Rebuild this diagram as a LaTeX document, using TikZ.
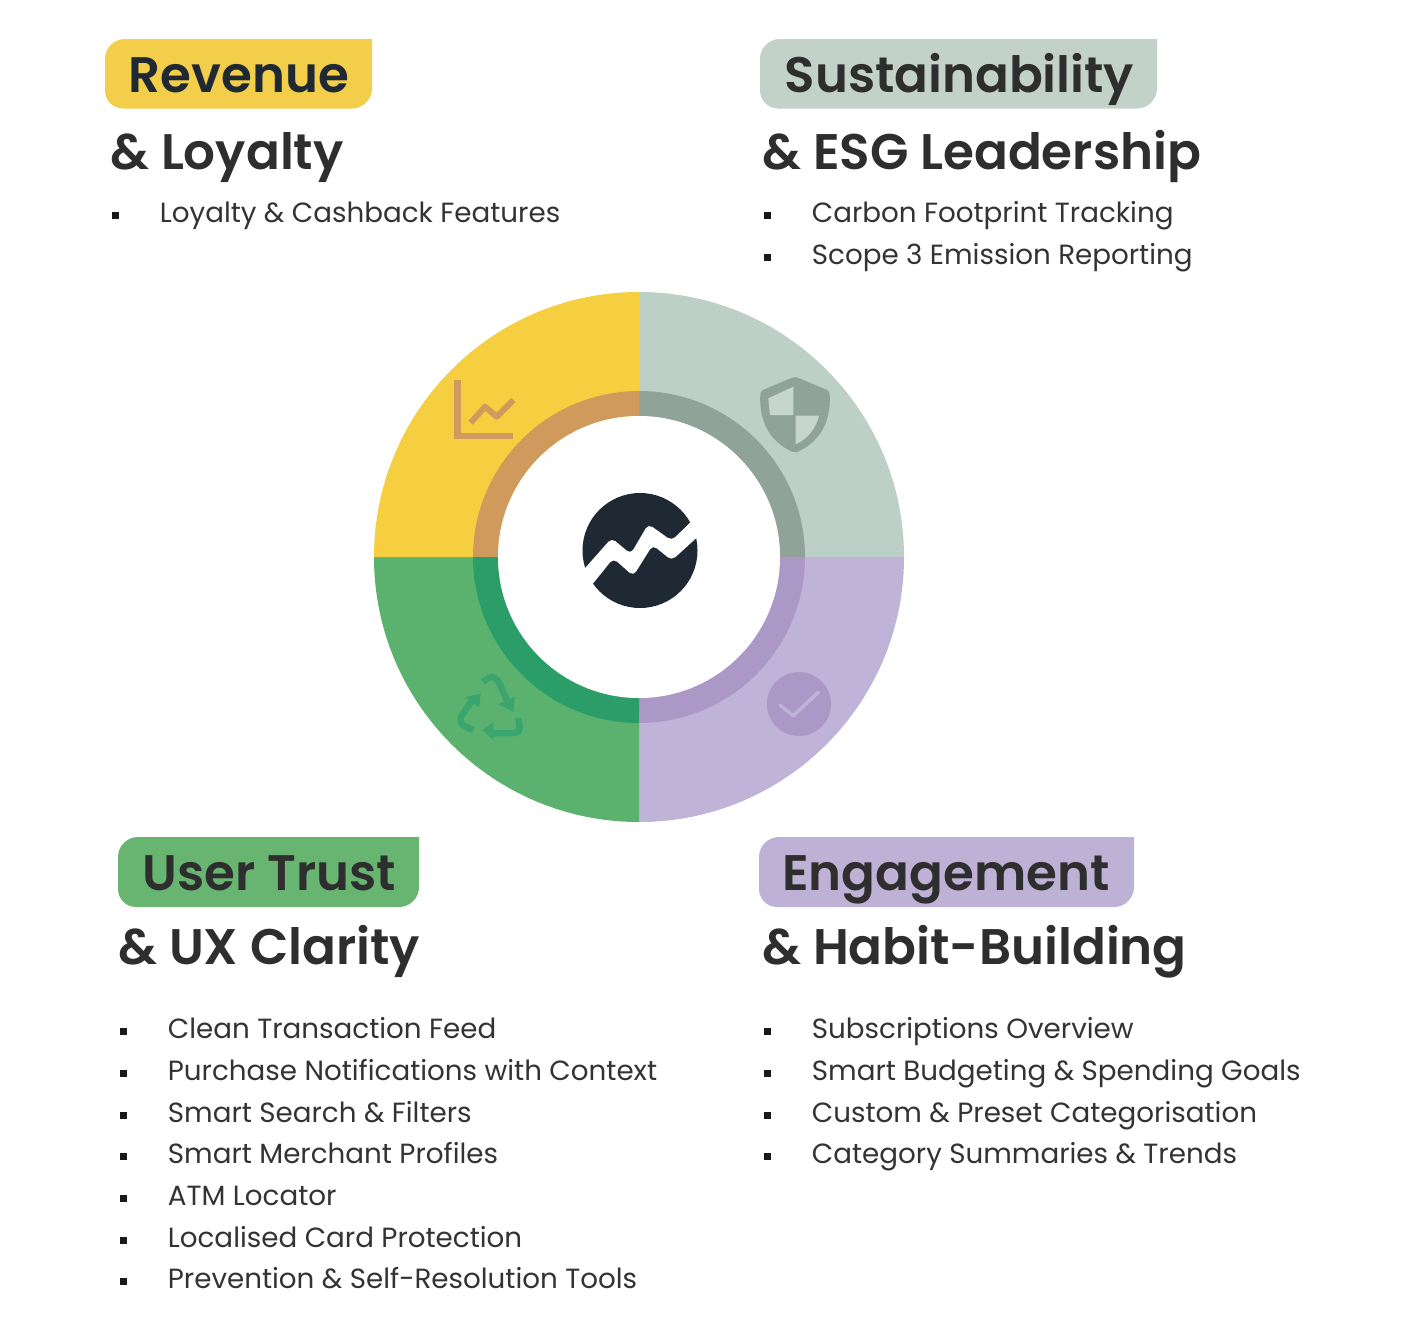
\documentclass[tikz,border=0pt]{standalone}
\usepackage{fontspec}
\setmainfont{Poppins}
\newfontfamily\popsemi{Poppins SemiBold}
\definecolor{cyellow}{HTML}{F5CF3F}
\definecolor{csage}{HTML}{BDD0C7}
\definecolor{cgreen}{HTML}{5BB26E}
\definecolor{clav}{HTML}{BFB3D8}
\definecolor{pyellow}{HTML}{F3CE4A}
\definecolor{psage}{HTML}{C3D2C9}
\definecolor{pgreen}{HTML}{68B471}
\definecolor{plav}{HTML}{BDB2D6}
\definecolor{rtan}{HTML}{CF9A5B}
\definecolor{rgray}{HTML}{8FA398}
\definecolor{rgreen}{HTML}{2A9D68}
\definecolor{rpurple}{HTML}{AC98C6}
\definecolor{iconsgreen}{HTML}{3BA56F}
\definecolor{shieldlight}{HTML}{C6D6CE}
\definecolor{navy}{HTML}{1F2933}
\definecolor{ink}{HTML}{2E2E2E}
\definecolor{body}{HTML}{333333}
\tikzset{
  tag/.style={anchor=base west,inner sep=0pt,font=\popsemi\fontsize{49.9}{60}\selectfont},
  head/.style={anchor=base west,inner sep=0pt,text=ink,font=\popsemi\fontsize{50}{60}\selectfont},
  item/.style={anchor=base west,inner sep=0pt,text=body,font=\fontsize{27.75}{34}\selectfont},
  bulletmark/.style={rectangle,fill=black!90,inner sep=0pt,minimum size=7pt},
  ringarc/.style={line width=25pt},
  recyclestem/.style={line width=6.5pt,rounded corners=3pt,draw=iconsgreen},
}
\newcommand{\pill}[5]{% x1 y1 x2 y2 colour
  \fill[#5] (#1+20,#2) -- (#3,#2) -- (#3,#4-20)
    arc[start angle=0,end angle=-90,radius=20pt] -- (#1+18,#4)
    arc[start angle=270,end angle=180,radius=18pt] -- (#1,#2+20)
    arc[start angle=180,end angle=90,radius=20pt] -- cycle;}
\begin{document}
\begin{tikzpicture}[x=1pt,y=-1pt]
\path[use as bounding box,fill=white] (0,0) rectangle (1413,1334);
% pills
\pill{105}{39}{372}{108.5}{pyellow}
\pill{760}{39}{1157}{108.5}{psage}
\pill{118}{837}{419}{907}{pgreen}
\pill{759}{837}{1134}{907}{plav}
% headings
\node[tag,text=navy] (t1) at (128.5,92) {Revenue};
\node[head] (h1) at (110,169) {\& Loyalty};
\node[tag,text=ink] (t2) at (784.5,92) {Sustainability};
\node[head] (h2) at (762,169) {\& ESG Leadership};
\node[tag,text=ink] (t3) at (142.5,890) {User Trust};
\node[head] (h3) at (118,964) {\& UX Clarity};
\node[tag,text=ink] (t4) at (782,890) {Engagement};
\node[head] (h4) at (762,964) {\& Habit-Building};
% lists
\node[bulletmark] (b11) at (115,215) {};
\node[item] (i11) at (159.7,222) {Loyalty \& Cashback Features};
\node[bulletmark] (b21) at (767,215) {};
\node[item] (i21) at (811.7,222) {Carbon Footprint Tracking};
\node[bulletmark] (b22) at (767,257) {};
\node[item] (i22) at (811.7,264) {Scope 3 Emission Reporting};
\node[bulletmark] (b31) at (123,1031) {};
\node[item] (i31) at (167.7,1038) {Clean Transaction Feed};
\node[bulletmark] (b32) at (123,1073) {};
\node[item] (i32) at (167.7,1080) {Purchase Notifications with Context};
\node[bulletmark] (b33) at (123,1115) {};
\node[item] (i33) at (167.7,1122) {Smart Search \& Filters};
\node[bulletmark] (b34) at (123,1156) {};
\node[item] (i34) at (167.7,1163) {Smart Merchant Profiles};
\node[bulletmark] (b35) at (123,1198) {};
\node[item] (i35) at (167.7,1205) {ATM Locator};
\node[bulletmark] (b36) at (123,1240) {};
\node[item] (i36) at (167.7,1247) {Localised Card Protection};
\node[bulletmark] (b37) at (123,1281) {};
\node[item] (i37) at (167.7,1288) {Prevention \& Self-Resolution Tools};
\node[bulletmark] (b41) at (767,1031) {};
\node[item] (i41) at (811.7,1038) {Subscriptions Overview};
\node[bulletmark] (b42) at (767,1073) {};
\node[item] (i42) at (811.7,1080) {Smart Budgeting \& Spending Goals};
\node[bulletmark] (b43) at (767,1115) {};
\node[item] (i43) at (811.7,1122) {Custom \& Preset Categorisation};
\node[bulletmark] (b44) at (767,1156) {};
\node[item] (i44) at (811.7,1163) {Category Summaries \& Trends};
% wheel
\fill[csage] (639,557) -- (639,292) arc[start angle=90,end angle=0,radius=265pt] -- cycle;
\fill[clav] (639,557) -- (904,557) arc[start angle=0,end angle=-90,radius=265pt] -- cycle;
\fill[cgreen] (639,557) -- (639,822) arc[start angle=270,end angle=180,radius=265pt] -- cycle;
\fill[cyellow] (639,557) -- (374,557) arc[start angle=180,end angle=90,radius=265pt] -- cycle;
\draw[ringarc,rgray] (639,403.5) arc[start angle=90,end angle=0,radius=153.5pt];
\draw[ringarc,rpurple] (792.5,557) arc[start angle=0,end angle=-90,radius=153.5pt];
\draw[ringarc,rgreen] (639,710.5) arc[start angle=270,end angle=180,radius=153.5pt];
\draw[ringarc,rtan] (485.5,557) arc[start angle=180,end angle=90,radius=153.5pt];
\fill[white] (639,557) circle[radius=141pt];
% logo
\fill[navy] (640,550.5) circle[radius=57.5pt];
\fill[white,rounded corners=5pt] (578,576) -- (611.7,538) -- (630.7,554) -- (648.3,524) -- (671.7,540.7) -- (693.3,519.3)
  [sharp corners] -- (704,531) [rounded corners=5pt] -- (671.7,560.5) -- (652.7,545) -- (633.3,576) -- (613.3,558.3) -- (590,587.3) [sharp corners] -- cycle;
% chart icon
\draw[rtan,line width=6.5pt] (457.5,380) -- (457.5,436) -- (513,436);
\draw[rtan,line width=6pt,line join=round] (470.7,422.7) -- (485,406.7) -- (496.7,416.7) -- (513.3,400);
% shield icon
\fill[rgray,rounded corners=3pt] (795,376.5) -- (829.5,391) .. controls (831.5,425) and (817,443) .. (795,453) .. controls (773,443) and (758.5,425) .. (760.5,391) -- cycle;
\fill[shieldlight] (793.5,386.7) -- (768.3,398.3) -- (770,415) -- (793.3,415) -- cycle;
\fill[shieldlight] (795.7,415.7) -- (819,415.7) .. controls (816,429) and (807,439) .. (795.7,444.3) -- cycle;
% recycle icon
\draw[recyclestem] (482.7,681.7) -- (491.7,676) -- (498,680) -- (506.7,700);
\fill[iconsgreen] (498.3,704.3) -- (513.3,711.7) -- (515,696.7) -- cycle;
\draw[recyclestem] (473.3,730) -- (461.7,725) -- (460,718.3) -- (473,699);
\fill[iconsgreen] (465,697.3) -- (480.7,693.3) -- (479.3,707.7) -- cycle;
\draw[recyclestem] (518.3,718.3) -- (520,731) -- (514,733.3) -- (490,733.3);
\fill[iconsgreen] (493.3,722.3) -- (482.3,730) -- (493.3,740) -- cycle;
% check icon
\fill[rpurple] (799,704) circle[radius=32pt];
\draw[clav,line width=3.5pt,line cap=round,line join=round] (780,705) -- (793.3,715.7) -- (818.3,692.3);
\end{tikzpicture}
\end{document}
